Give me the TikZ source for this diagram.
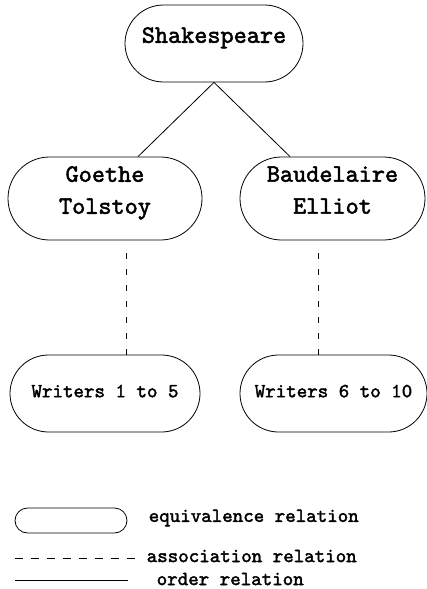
\documentclass[tikz,border=0pt]{standalone}
\usepackage{fontspec}
\newfontfamily\writerfont{lmmono10-regular}[Extension=.otf,FakeBold=2]
\usetikzlibrary{shapes.misc,calc}
\begin{document}
\begin{tikzpicture}[x=1pt,y=-1pt,line width=.8pt,
  equiv/.style={draw,rounded rectangle,inner sep=0pt,align=center,text depth=17pt,font=\writerfont\fontsize{25}{32}\selectfont},
  small/.style={font=\writerfont\fontsize{20}{24}\selectfont},
  assoc/.style={dash pattern=on 6pt off 10pt}]
\useasboundingbox (0,0) rectangle (426,589);
% hierarchy
\node[equiv,minimum width=178pt,minimum height=77pt] (shak) at (214,43.5){Shakespeare};
\node[equiv,minimum width=194pt,minimum height=83pt] (goethe) at (105,198.5){Goethe\\Tolstoy};
\node[equiv,minimum width=185pt,minimum height=83pt] (baud) at (332.5,198.5){Baudelaire\\Elliot};
\node[equiv,small,text depth=5pt,minimum width=190pt,minimum height=77pt] (wa) at (105,393.5){Writers 1 to 5};
\node[equiv,small,text depth=5pt,minimum width=187pt,minimum height=77pt] (wb) at (333.5,393.5){Writers 6 to 10};
\draw (shak.south)--([xshift=33pt]goethe.north);
\draw (shak.south)--([xshift=-42.5pt]baud.north);
\draw[assoc] ([xshift=21pt,yshift=-13pt]goethe.south)--([xshift=21pt]wa.north);
\draw[assoc] ([xshift=-14.5pt,yshift=-13pt]baud.south)--([xshift=-15.5pt]wb.north);
% legend
\node[draw,rounded rectangle,inner sep=0pt,minimum width=112pt,minimum height=25pt] (key) at (71,520.5){};
\node[small,anchor=west] (keyeq) at (145,518){equivalence relation};
\coordinate (da) at (15,558);\coordinate (db) at (140,558);
\draw[assoc,dash pattern=on 8pt off 8pt] (da)--(db);
\node[small,anchor=west] (keyas) at (143,556){association relation};
\coordinate (sa) at (15,580);\coordinate (sb) at (128,580);
\draw (sa)--(sb);
\node[small,anchor=west] (keyor) at (153,579){order relation};
\end{tikzpicture}
\end{document}
